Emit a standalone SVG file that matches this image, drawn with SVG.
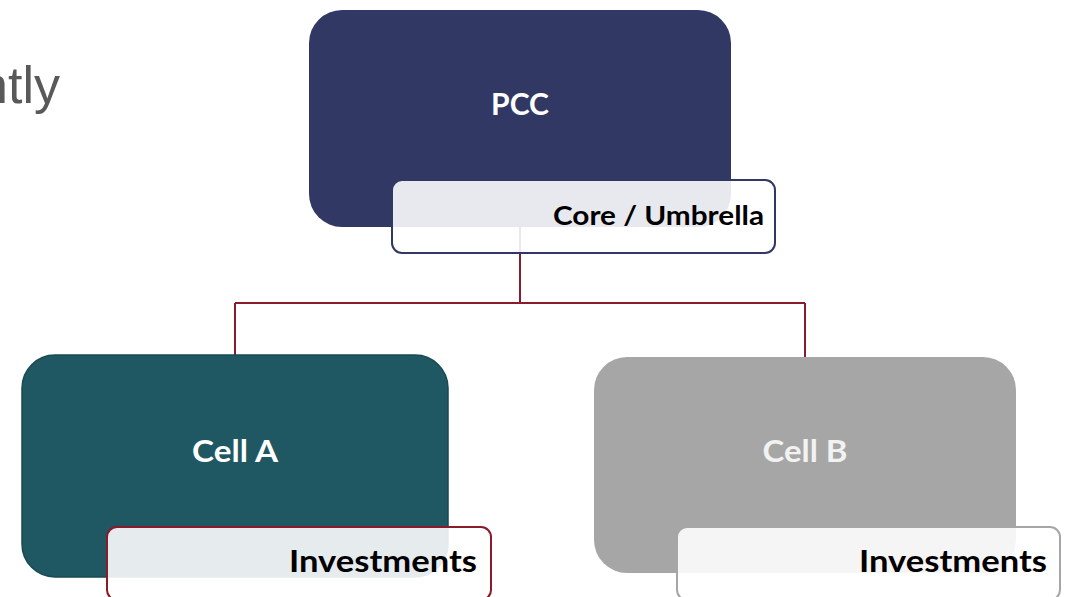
<svg xmlns="http://www.w3.org/2000/svg" width="1066" height="597" viewBox="0 0 1066 597">
<style>
.lbl{font-family:Lato,"Open Sans","Liberation Sans",sans-serif;font-weight:bold;}
.big{font-size:31px;fill:#ffffff;text-anchor:middle;}
.tag{fill:#000000;text-anchor:end;}
.tagbox{fill:#ffffff;fill-opacity:0.89;stroke-width:2;}
.conn{fill:none;stroke:#8b1a2b;stroke-width:2;}
</style>
<rect width="1066" height="597" fill="#ffffff"/>
<text x="60" y="103" font-family="'Liberation Sans',Arial,sans-serif" font-size="52" fill="#595959" text-anchor="end">ntly</text>
<g id="connectors">
<path class="conn" d="M520 227 V303 M235 303 H805 M235 303 V355 M805 303 V357"/>
</g>
<g id="pcc">
<rect x="309" y="10" width="422" height="217" rx="33" fill="#313864"/>
<text class="lbl big" x="520" y="115" textLength="58" lengthAdjust="spacingAndGlyphs">PCC</text>
</g>
<g id="core">
<rect class="tagbox" x="392" y="180" width="383" height="73" rx="10" stroke="#313864"/>
<text class="lbl tag" x="764" y="225" font-size="27" textLength="211" lengthAdjust="spacingAndGlyphs">Core / Umbrella</text>
</g>
<g id="cellA">
<rect x="22" y="355" width="426" height="222" rx="33" fill="#1f5862" stroke="#174a52" stroke-width="1.5"/>
<text class="lbl big" x="235" y="462" textLength="86" lengthAdjust="spacingAndGlyphs">Cell A</text>
</g>
<g id="invA">
<rect class="tagbox" x="107" y="527" width="384" height="73" rx="10" stroke="#8b1a2b"/>
<text class="lbl tag" x="477" y="572" font-size="30" textLength="188" lengthAdjust="spacingAndGlyphs">Investments</text>
</g>
<g id="cellB">
<rect x="594" y="357" width="422" height="216" rx="33" fill="#a6a6a6"/>
<text class="lbl big" x="805" y="462" style="fill:#f2f2f2" textLength="85" lengthAdjust="spacingAndGlyphs">Cell B</text>
</g>
<g id="invB">
<rect class="tagbox" x="677" y="527" width="383" height="73" rx="10" stroke="#a6a6a6"/>
<text class="lbl tag" x="1047" y="572" font-size="30" textLength="188" lengthAdjust="spacingAndGlyphs">Investments</text>
</g>
</svg>
